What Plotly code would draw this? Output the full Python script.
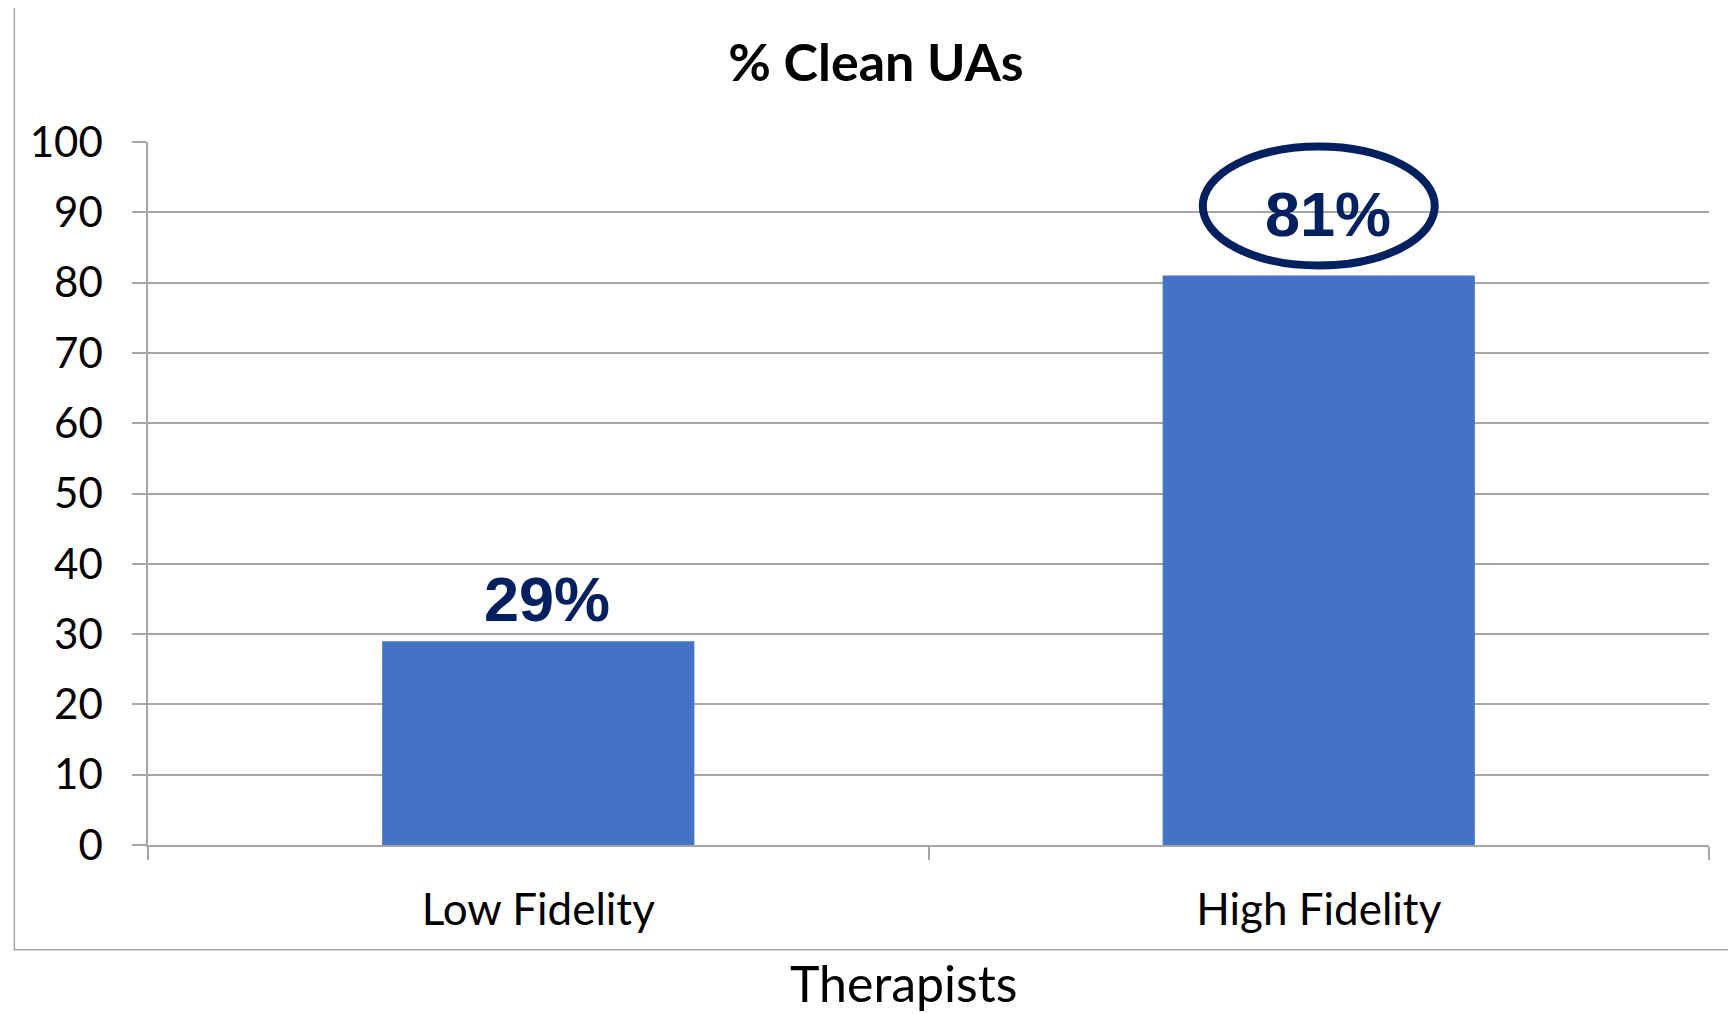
import plotly.graph_objects as go

# chart data
categories = ["Low Fidelity", "High Fidelity"]
clean_pct = [29, 81]
bar_labels = ["29%", "81%"]
y_ticks = [0, 10, 20, 30, 40, 50, 60, 70, 80, 90, 100]

BAR_COLOR = "#4472C4"
NAVY = "#002060"
GRID = "#A6A6A6"

# page has an 8px body margin, so the figure is a bit smaller than the window
W, H = 1728, 1006

fig = go.Figure()

fig.add_trace(
    go.Bar(
        x=categories,
        y=clean_pct,
        marker=dict(color=BAR_COLOR, line=dict(width=0)),
        showlegend=False,
        hoverinfo="x+y",
    )
)

# value labels above bars (pixel offsets from bar top)
label_shift = [42, 62]
for cat, val, txt, dy in zip(categories, clean_pct, bar_labels, label_shift):
    fig.add_annotation(
        x=cat, y=val, text=f"<b>{txt}</b>", showarrow=False,
        xshift=9, yshift=dy, yanchor="middle",
        font=dict(family="Liberation Sans, Arial", size=63, color=NAVY),
    )

# ellipse around the high-fidelity label
fig.add_shape(
    type="circle", xref="x", yref="y",
    xsizemode="pixel", ysizemode="pixel",
    xanchor=1, yanchor=clean_pct[1],
    x0=-116, x1=116, y0=10, y1=129,
    line=dict(color=NAVY, width=8),
)

# outer chart border
fig.add_shape(
    type="rect", xref="paper", yref="paper",
    x0=-0.0856, x1=1.03, y0=-0.149, y1=1.1937,
    line=dict(color="#A6A6A6", width=1.5),
)

fig.add_annotation(
    text="Therapists", xref="paper", yref="paper",
    x=0.4837, y=-0.197, showarrow=False,
    xanchor="center", yanchor="middle",
    font=dict(family="Lato, Liberation Sans", size=50, color="black"),
)

fig.update_layout(
    width=W,
    height=H,
    margin=dict(l=140, r=27, t=134, b=169),
    paper_bgcolor="white",
    plot_bgcolor="white",
    bargap=0.6,
    title=dict(
        text="<b>% Clean UAs</b>",
        x=868 / W, xref="container", xanchor="center",
        y=1 - 55 / H, yref="container", yanchor="middle",
        font=dict(family="Lato, Liberation Sans", size=52, color="black"),
    ),
    font=dict(family="Lato, Liberation Sans", color="black"),
)

fig.update_xaxes(
    type="category",
    showline=True, linecolor=GRID, linewidth=1.5,
    ticks="outside", tickson="boundaries", ticklen=13, tickcolor=GRID, tickwidth=1.5,
    tickfont=dict(family="Lato, Liberation Sans", size=44, color="black"),
    ticklabelstandoff=25,
    showgrid=False,
)

fig.update_yaxes(
    range=[0, 100],
    tickvals=y_ticks,
    showline=True, linecolor=GRID, linewidth=1.5,
    ticks="outside", ticklen=14, tickcolor=GRID, tickwidth=1.5,
    showgrid=True, gridcolor=GRID, gridwidth=1.5,
    zeroline=False,
    tickfont=dict(family="Lato, Liberation Sans", size=42, color="black"),
    ticklabelstandoff=21,
)

fig.write_html("out.html")
